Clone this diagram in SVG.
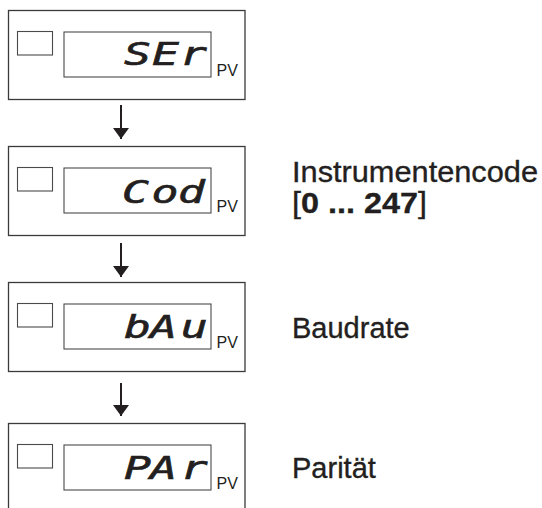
<svg xmlns="http://www.w3.org/2000/svg" width="542" height="508" viewBox="0 0 542 508">
<style>
.outer{fill:none;stroke:#3a3a3a;stroke-width:1.3}
.inner{fill:none;stroke:#4a4a4a;stroke-width:1.1}
.seg{font-family:"DejaVu Sans Mono",monospace;font-size:32px;font-style:oblique;fill:#231f20;stroke:#231f20;stroke-width:0.6}
.pv{font-family:"Liberation Sans",Arial,sans-serif;font-size:16px;fill:#231f20}
.lbl{font-family:"Liberation Sans",Arial,sans-serif;font-size:29px;fill:#231f20;stroke:#231f20;stroke-width:0.35}
.bold{font-weight:bold}
.conn{stroke:#231f20;stroke-width:2;fill:none}
</style>
<defs>
<marker id="ah" markerWidth="11" markerHeight="16" refX="11" refY="8" orient="auto" markerUnits="userSpaceOnUse" viewBox="0 0 11 16">
<path d="M0,0 L11,8 L0,16 Z" fill="#231f20"/>
</marker>
</defs>
<rect width="542" height="508" fill="#fff"/>
<g id="node-ser">
<rect class="outer" x="8.5" y="10.5" width="236.5" height="89"/>
<rect class="inner" x="17.5" y="31.5" width="35" height="23.5"/>
<rect class="inner" x="64" y="32" width="147" height="45"/>
<text class="seg" transform="translate(124,65) scale(1.4,1)" x="0 20 40">SEr</text>
<text class="pv" x="216.5" y="76">PV</text>
</g>
<g id="node-cod">
<rect class="outer" x="8.5" y="146.5" width="236.5" height="89"/>
<rect class="inner" x="17.5" y="167.5" width="35" height="23.5"/>
<rect class="inner" x="64" y="168" width="147" height="45"/>
<text class="seg" transform="translate(122,203) scale(1.4,1)" x="0 21 40">Cod</text>
<text class="pv" x="216.5" y="212">PV</text>
</g>
<g id="node-bau">
<rect class="outer" x="8.5" y="282.5" width="236.5" height="89"/>
<rect class="inner" x="17.5" y="303.5" width="35" height="23.5"/>
<rect class="inner" x="64" y="304" width="147" height="45"/>
<text class="seg" transform="translate(124,338) scale(1.4,1)" x="0 18.5 40.5">bAu</text>
<text class="pv" x="216.5" y="348">PV</text>
</g>
<g id="node-par">
<rect class="outer" x="8.5" y="423.5" width="236.5" height="89"/>
<rect class="inner" x="17.5" y="444.5" width="35" height="23.5"/>
<rect class="inner" x="64" y="445" width="147" height="45"/>
<text class="seg" transform="translate(124,479) scale(1.4,1)" x="0 18.5 40.5">PAr</text>
<text class="pv" x="216.5" y="489">PV</text>
</g>
<g id="labels">
<text class="lbl" x="292" y="182" textLength="246" lengthAdjust="spacingAndGlyphs">Instrumentencode</text>
<text class="lbl" x="292" y="213" textLength="135" lengthAdjust="spacingAndGlyphs"><tspan>[</tspan><tspan class="bold">0 ... 247</tspan><tspan>]</tspan></text>
<text class="lbl" x="292" y="338">Baudrate</text>
<text class="lbl" x="292" y="478">Parität</text>
</g>
<g id="connectors">
<line class="conn" x1="121" y1="105" x2="121" y2="139" marker-end="url(#ah)"/>
<line class="conn" x1="121" y1="243" x2="121" y2="277" marker-end="url(#ah)"/>
<line class="conn" x1="121" y1="383" x2="121" y2="416" marker-end="url(#ah)"/>
</g>
</svg>
